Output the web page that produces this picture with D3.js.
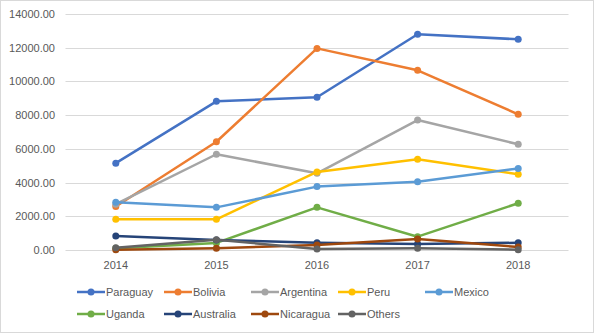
<!DOCTYPE html>
<html>
<head>
<meta charset="utf-8">
<script src="https://cdn.jsdelivr.net/npm/d3@7"></script>
<style>
  body { margin: 0; background: #fff; }
  svg { display: block; }
</style>
</head>
<body>
<div id="chart"></div>
<script>
const years = ['2014', '2015', '2016', '2017', '2018']
const yTicks = [0, 2000, 4000, 6000, 8000, 10000, 12000, 14000]

const paraguay = [5150, 8820, 9060, 12800, 12500]
const bolivia = [2580, 6420, 11960, 10660, 8050]
const argentina = [2720, 5680, 4550, 7710, 6270]
const peru = [1820, 1820, 4630, 5380, 4490]
const mexico = [2830, 2530, 3760, 4050, 4840]
const uganda = [100, 420, 2530, 790, 2770]
const australia = [830, 600, 430, 350, 430]
const nicaragua = [10, 100, 300, 650, 180]
const others = [140, 610, 60, 100, 20]

const seriesNames = ['Paraguay', 'Bolivia', 'Argentina', 'Peru', 'Mexico', 'Uganda', 'Australia', 'Nicaragua', 'Others']
const seriesValues = [paraguay, bolivia, argentina, peru, mexico, uganda, australia, nicaragua, others]
const colors = ['#4472C4', '#ED7D31', '#A5A5A5', '#FFC000', '#5B9BD5', '#70AD47', '#264478', '#9E480E', '#636363']

const width = 594
const height = 333
const plotLeft = 65.5, plotRight = 568.5, plotTop = 14, plotBottom = 250

const svg = d3.select('#chart')
  .append('svg')
  .attr('width', width)
  .attr('height', height)

// outer border
svg.append('rect')
  .attr('x', 0.5).attr('y', 0.5)
  .attr('width', width - 1).attr('height', height - 1)
  .attr('fill', '#fff')
  .attr('stroke', '#d9d9d9')

const x = d3.scalePoint()
  .domain(years)
  .range([plotLeft, plotRight])
  .padding(0.5)

const y = d3.scaleLinear()
  .domain([0, 14000])
  .range([plotBottom, plotTop])

// gridlines
svg.append('g')
  .selectAll('line')
  .data(yTicks)
  .enter()
  .append('line')
  .attr('x1', plotLeft)
  .attr('x2', plotRight)
  .attr('y1', d => Math.round(y(d)) + 0.5)
  .attr('y2', d => Math.round(y(d)) + 0.5)
  .attr('stroke', '#d9d9d9')
  .attr('stroke-width', 1)

// y labels
svg.append('g')
  .selectAll('text')
  .data(yTicks)
  .enter()
  .append('text')
  .attr('x', 55)
  .attr('y', d => y(d) + 4)
  .attr('text-anchor', 'end')
  .style('font', 'normal 11px "Liberation Sans", Arial, sans-serif')
  .style('fill', '#595959')
  .text(d => d3.format('.2f')(d))

// x labels
svg.append('g')
  .selectAll('text')
  .data(years)
  .enter()
  .append('text')
  .attr('x', d => x(d))
  .attr('y', 269)
  .attr('text-anchor', 'middle')
  .style('font', 'normal 11px "Liberation Sans", Arial, sans-serif')
  .style('fill', '#595959')
  .text(d => d)

const line = d3.line()
  .x((d, i) => x(years[i]))
  .y(d => y(d))

const g = svg.append('g')
  .selectAll('g')
  .data(seriesValues)
  .enter()
  .append('g')

g.append('path')
  .attr('d', d => line(d))
  .attr('fill', 'none')
  .attr('stroke', (_, i) => colors[i])
  .attr('stroke-width', 2.5)
  .attr('stroke-linejoin', 'round')
  .attr('stroke-linecap', 'round')

g.each(function (vals, si) {
  d3.select(this).selectAll('circle')
    .data(vals)
    .enter()
    .append('circle')
    .attr('cx', (_, i) => x(years[i]))
    .attr('cy', d => y(d))
    .attr('r', 3.5)
    .attr('fill', colors[si])
})

// legend
const legend = svg.append('g')
  .selectAll('g')
  .data(seriesNames)
  .enter()
  .append('g')
  .attr('transform', (_, i) => `translate(${77 + (i % 5) * 87},${i < 5 ? 292 : 314})`)

legend.append('line')
  .attr('x1', 0).attr('x2', 28)
  .attr('y1', 0).attr('y2', 0)
  .attr('stroke', (_, i) => colors[i])
  .attr('stroke-width', 2.5)

legend.append('circle')
  .attr('cx', 14).attr('cy', 0)
  .attr('r', 3.5)
  .attr('fill', (_, i) => colors[i])

legend.append('text')
  .attr('x', 29)
  .attr('y', 4)
  .style('font', 'normal 11px "Liberation Sans", Arial, sans-serif')
  .style('fill', '#595959')
  .text(d => d)
</script>
</body>
</html>
